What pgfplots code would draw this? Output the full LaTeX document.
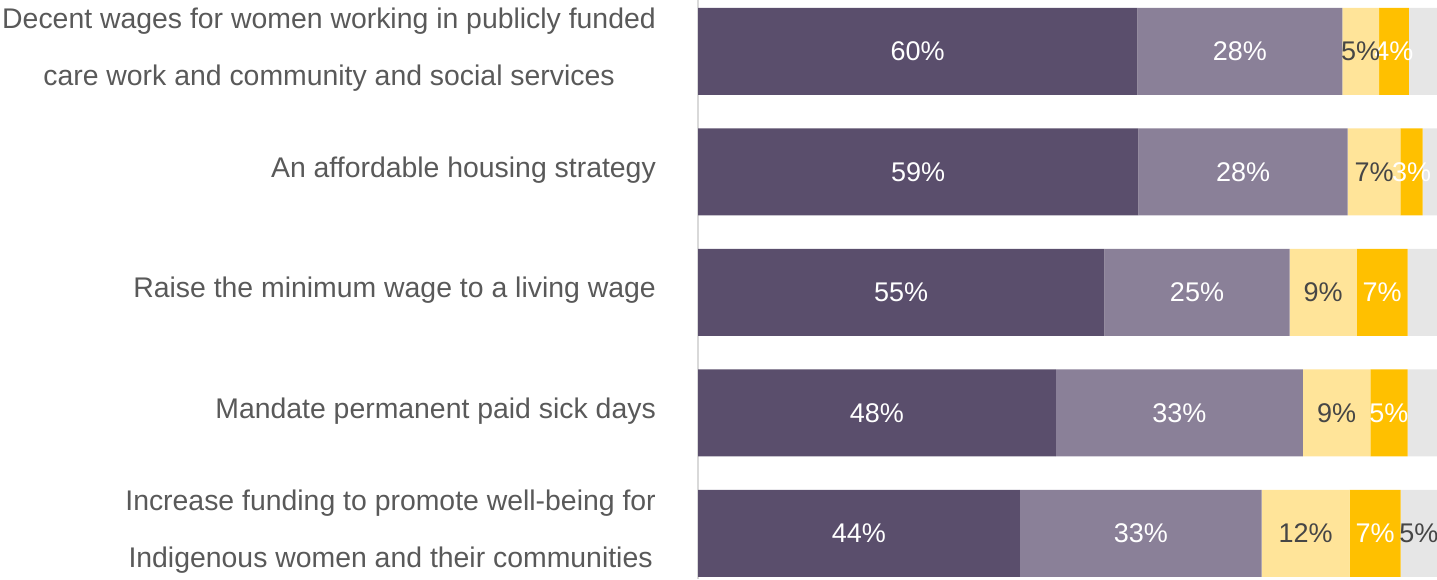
\documentclass[border=0pt]{standalone}
\usepackage{pgfplots}
\pgfplotsset{compat=1.18}
\usepackage{fontspec}
\setmainfont{Liberation Sans}

\definecolor{cDark}{RGB}{90,78,108}
\definecolor{cMid}{RGB}{138,128,152}
\definecolor{cLight}{RGB}{255,228,153}
\definecolor{cGold}{RGB}{255,192,0}
\definecolor{cGrey}{RGB}{230,230,230}
\definecolor{cText}{RGB}{89,89,89}
\definecolor{cDarkText}{RGB}{70,70,70}

\begin{document}
\begin{tikzpicture}
\useasboundingbox (0pt,0pt) rectangle (1437pt,579pt);
\begin{axis}[
  at={(698pt,0pt)}, anchor=south west,
  scale only axis,
  width=739pt, height=579pt,
  xbar stacked,
  bar width=87pt,
  xmin=0, xmax=100,
  ymin=-0.427, ymax=4.378,
  y dir=reverse,
  hide x axis,
  axis y line*=left,
  y axis line style={draw=black!15, line width=1.5pt},
  ytick={0,1,2,3,4},
  yticklabels={
    {Decent wages for women working in publicly funded\\care work and community and social services},
    {An affordable housing strategy},
    {Raise the minimum wage to a living wage},
    {Mandate permanent paid sick days},
    {Increase funding to promote well-being for\\Indigenous women and their communities}},
  major tick length=0pt,
  yticklabel style={font=\fontsize{28.4}{57}\selectfont, text=cText,
    align=center, inner sep=0pt, xshift=-42pt, yshift=2pt},
  point meta=explicit symbolic,
  nodes near coords,
  every node near coord/.append style={anchor=center, inner sep=0pt,
    font=\fontsize{27}{27}\selectfont},
]
% segment widths in percent; labels as printed
\addplot[fill=cDark, draw=none, nodes near coords style={text=white}] coordinates {
  (59.45,0) [60\%] (59.58,1) [59\%] (54.98,2) [55\%] (48.44,3) [48\%] (43.57,4) [44\%]};
\addplot[fill=cMid, draw=none, nodes near coords style={text=white}] coordinates {
  (27.74,0) [28\%] (28.34,1) [28\%] (25.09,2) [25\%] (33.42,3) [33\%] (32.71,4) [33\%]};
\addplot[fill=cLight, draw=none, nodes near coords style={text=cDarkText}] coordinates {
  (4.97,0) [5\%] (7.12,1) [7\%] (9.07,2) [9\%] (9.11,3) [9\%] (11.91,4) [12\%]};
\addplot[fill=cGold, draw=none, nodes near coords style={text=white}] coordinates {
  (4.02,0) [4\%] (3.03,1) [3\%] (6.90,2) [7\%] (5.06,3) [5\%] (6.90,4) [7\%]};
\addplot[fill=cGrey, draw=none, nodes near coords style={text=cDarkText}] coordinates {
  (3.82,0) [{}] (1.93,1) [{}] (3.96,2) [{}] (3.97,3) [{}] (4.91,4) [5\%]};
\end{axis}
\end{tikzpicture}
\end{document}
